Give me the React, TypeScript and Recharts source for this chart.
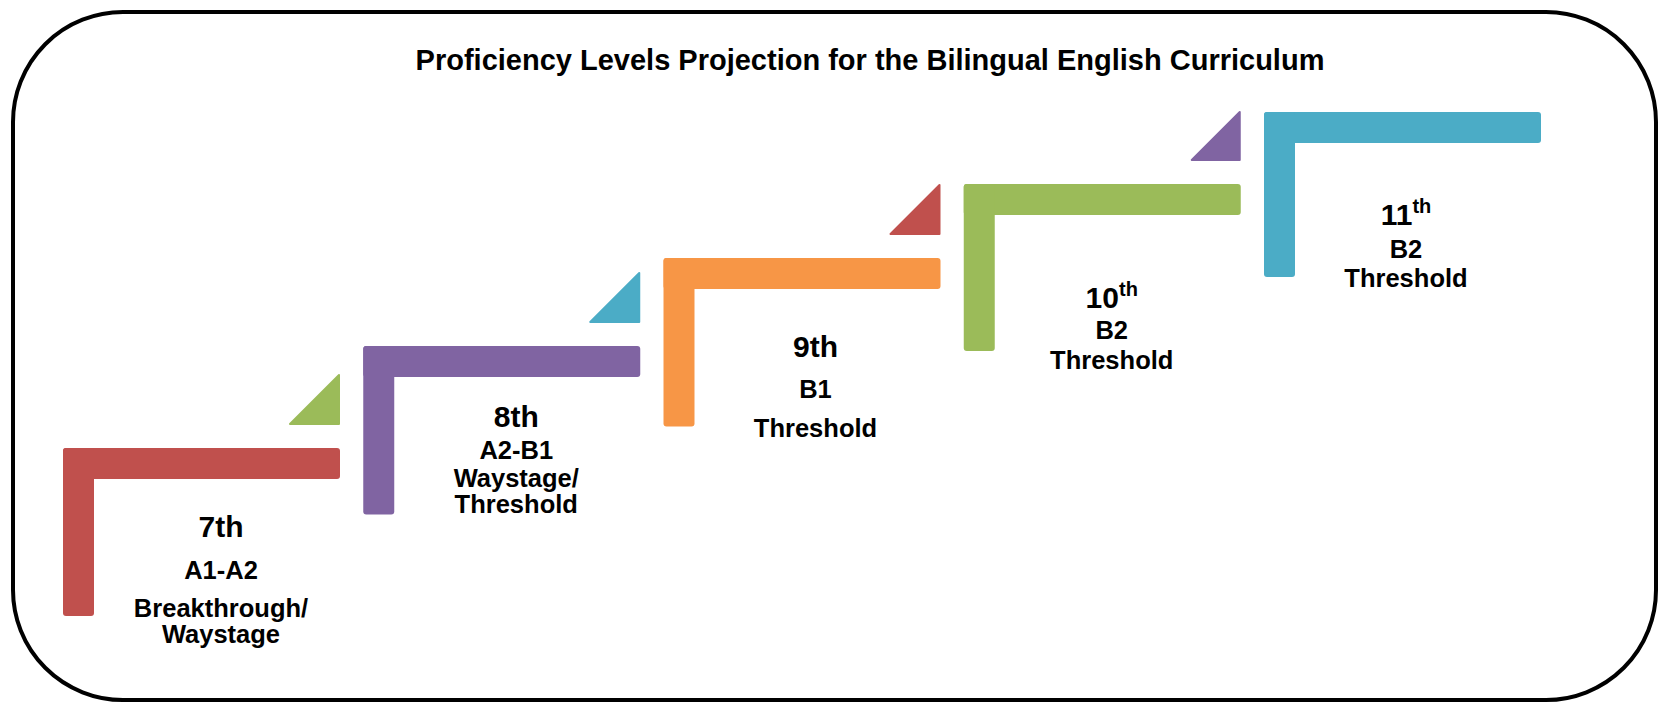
import React from 'react';
import { ComposedChart, Bar, XAxis, YAxis } from 'recharts';

// ---- data ----
const grades = ['7th', '8th', '9th', '10th', '11th'];
const gradeNumbers = ['7', '8', '9', '10', '11'];
const superscriptSuffix = [false, false, false, true, true];
const cefrLevels = ['A1-A2', 'A2-B1', 'B1', 'B2', 'B2'];
const descriptors = [
  ['Breakthrough/', 'Waystage'],
  ['Waystage/', 'Threshold'],
  ['Threshold'],
  ['Threshold'],
  ['Threshold'],
];
// step (L shape) vertical extent, in chart units (0 = bottom of canvas)
const stepTop = [255, 357, 445, 519, 591];
const stepBottom = [87, 188.5, 276.5, 352, 426];
// small corner triangles above the end of each step
const markerTop = [329, 431, 519, 592, null];
const markerBottom = [278, 380, 468, 542, null];

const stepColors = ['#C0504D', '#8064A2', '#F79646', '#9BBB59', '#4BACC6'];
const markerColors = ['#9BBB59', '#4BACC6', '#C0504D', '#8064A2', '#4BACC6'];

const title = 'Proficiency Levels Projection for the Bilingual English Curriculum';

// ---- layout (styles / offsets) ----
const labelDx = [158, 153, 152, 148, 142];
const labelBaselines = [
  [89, 131, 169, 195],
  [81, 113, 141, 167],
  [99, 140, 179],
  [124, 155, 185],
  [113, 146, 175],
];
const THICK = 31;
const FONT = '"Liberation Sans", Arial, Helvetica, sans-serif';

const data = grades.map((g, i) => ({
  grade: g,
  idx: i,
  step: [stepBottom[i], stepTop[i]],
  marker: markerTop[i] == null ? null : [markerBottom[i], markerTop[i]],
}));

const StepShape = (props: any) => {
  const { x, y, width, height, payload } = props;
  const i = payload.idx;
  const color = stepColors[i];
  const base = labelBaselines[i];
  const cx = x + labelDx[i];
  const lines = [cefrLevels[i], ...descriptors[i]];
  return (
    <g>
      <rect x={x} y={y} width={width} height={THICK} rx={3} fill={color} />
      <rect x={x} y={y} width={THICK} height={height} rx={3} fill={color} />
      <text
        x={cx}
        y={y + base[0]}
        textAnchor="middle"
        fontFamily={FONT}
        fontWeight="bold"
        fontSize={30}
        fill="#000"
      >
        {superscriptSuffix[i] ? (
          <>
            <tspan>{gradeNumbers[i]}</tspan>
            <tspan dy={-12} fontSize={20}>th</tspan>
          </>
        ) : (
          grades[i]
        )}
      </text>
      {lines.map((t, k) => (
        <text
          key={k}
          x={cx}
          y={y + base[k + 1]}
          textAnchor="middle"
          fontFamily={FONT}
          fontWeight="bold"
          fontSize={25.5}
          fill="#000"
        >
          {t}
        </text>
      ))}
    </g>
  );
};

const MarkerShape = (props: any) => {
  const { x, y, width, height, payload } = props;
  if (height == null || isNaN(height) || height <= 0) return null;
  const color = markerColors[payload.idx];
  const r = x + width - 1;
  const t = y + 1;
  const b = y + height - 1;
  const pts = `${r},${t} ${r},${b} ${r - (b - t)},${b}`;
  return (
    <polygon
      points={pts}
      fill={color}
      stroke={color}
      strokeWidth={2}
      strokeLinejoin="round"
    />
  );
};

export default function App() {
  return (
    <div
      style={{
        position: 'absolute',
        left: 0,
        top: 0,
        width: 1660,
        height: 703,
        background: '#fff',
        overflow: 'hidden',
      }}
    >
      <div
        style={{
          position: 'absolute',
          left: 11,
          top: 10,
          width: 1647,
          height: 692,
          boxSizing: 'border-box',
          border: '4px solid #000',
          borderRadius: 112,
        }}
      />
      <div
        style={{
          position: 'absolute',
          left: 0,
          top: 46,
          width: 1740,
          textAlign: 'center',
          fontFamily: FONT,
          fontWeight: 'bold',
          fontSize: 29,
          lineHeight: '29px',
          color: '#000',
          whiteSpace: 'nowrap',
        }}
      >
        {title}
      </div>
      <div style={{ position: 'absolute', left: 0, top: 0 }}>
        <ComposedChart
          width={1660}
          height={703}
          data={data}
          margin={{ top: 0, right: 107.35, bottom: 0, left: 51.4 }}
          barCategoryGap={11.6}
        >
          <XAxis xAxisId="steps" dataKey="grade" type="category" hide />
          <XAxis xAxisId="markers" dataKey="grade" type="category" hide />
          <YAxis type="number" domain={[0, 703]} hide allowDataOverflow />
          <Bar
            xAxisId="markers"
            dataKey="marker"
            isAnimationActive={false}
            shape={MarkerShape}
          />
          <Bar
            xAxisId="steps"
            dataKey="step"
            isAnimationActive={false}
            shape={StepShape}
          />
        </ComposedChart>
      </div>
    </div>
  );
}
